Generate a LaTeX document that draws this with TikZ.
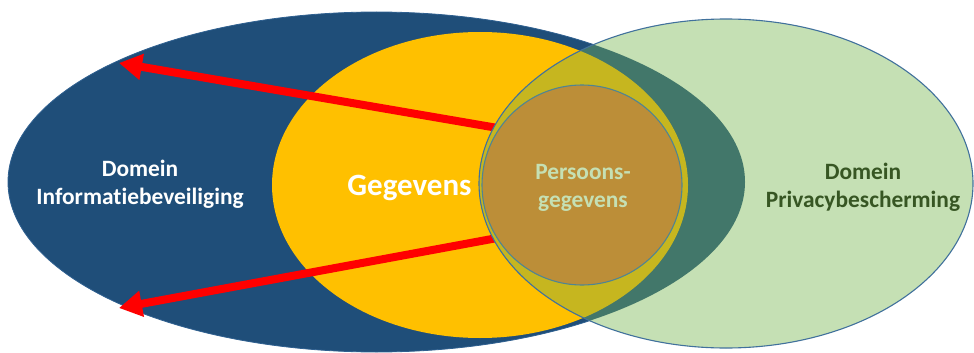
\documentclass[tikz,border=0pt]{standalone}
\usepackage{fontspec}
\setmainfont{Carlito}[Ligatures=NoCommon]
\usetikzlibrary{arrows.meta}

\definecolor{domblue}{HTML}{1F4E79}
\definecolor{domedge}{HTML}{2F6090}
\definecolor{datayellow}{HTML}{FFC000}
\definecolor{privgreen}{HTML}{C5E0B4}
\definecolor{privteal}{HTML}{42776A}
\definecolor{privolive}{HTML}{C6B61F}
\definecolor{pdbrown}{HTML}{BC8E38}
\definecolor{privedge}{HTML}{41719C}
\definecolor{pdedge}{HTML}{4F8593}
\definecolor{darkgreen}{HTML}{375623}
\definecolor{arrowred}{HTML}{FF0000}

\begin{document}
\begin{tikzpicture}[x=1pt,y=-1pt,
  label/.style={font=\fontsize{23.4}{28}\selectfont\bfseries, align=center, anchor=base, inner sep=0pt},
  flow/.style={draw=arrowred, line width=8pt, -{Triangle[length=23pt,width=25pt]}}]
  \useasboundingbox (0,0) rectangle (974,353);

  % domain of information security
  \fill[domblue, draw=domedge, line width=0.8pt] (376.5,182) ellipse [x radius=368.5pt, y radius=170pt];
  % data
  \fill[datayellow] (480,185) ellipse [x radius=208pt, y radius=153pt];

  % arrows from personal data out into the security domain
  \coordinate (upstart) at (500,128.4);
  \coordinate (uptip) at (119,63);
  \coordinate (lowstart) at (500,237.5);
  \coordinate (lowtip) at (119,308);
  \draw[flow] (upstart) -- (uptip);
  \draw[flow] (lowstart) -- (lowtip);

  % domain of privacy protection, with its overlaps
  \fill[privgreen] (726,183.5) ellipse [x radius=247pt, y radius=164.5pt];
  \begin{scope}
    \clip (726,183.5) ellipse [x radius=247pt, y radius=164.5pt];
    \fill[privteal] (376.5,182) ellipse [x radius=368.5pt, y radius=170pt];
    \fill[privolive] (480,185) ellipse [x radius=208pt, y radius=153pt];
  \end{scope}
  \draw[privedge, line width=1.1pt] (726,183.5) ellipse [x radius=247pt, y radius=164.5pt];

  % personal data
  \filldraw[fill=pdbrown, draw=pdedge, line width=1.1pt] (582,185) circle [radius=100pt];

  % labels (base anchor sits on the last line)
  \node[label, text=white] (infosec) at (140,204) {Domein\\Informatiebeveiliging};
  \node[label, text=white, font=\fontsize{31}{36}\selectfont\bfseries] (data) at (409.5,195) {Gegevens};
  \node[label, text=privgreen] (pdata) at (583,207) {Persoons-\\gegevens};
  \node[label, text=darkgreen] (privacy) at (863,207) {Domein\\Privacybescherming};
\end{tikzpicture}
\end{document}
